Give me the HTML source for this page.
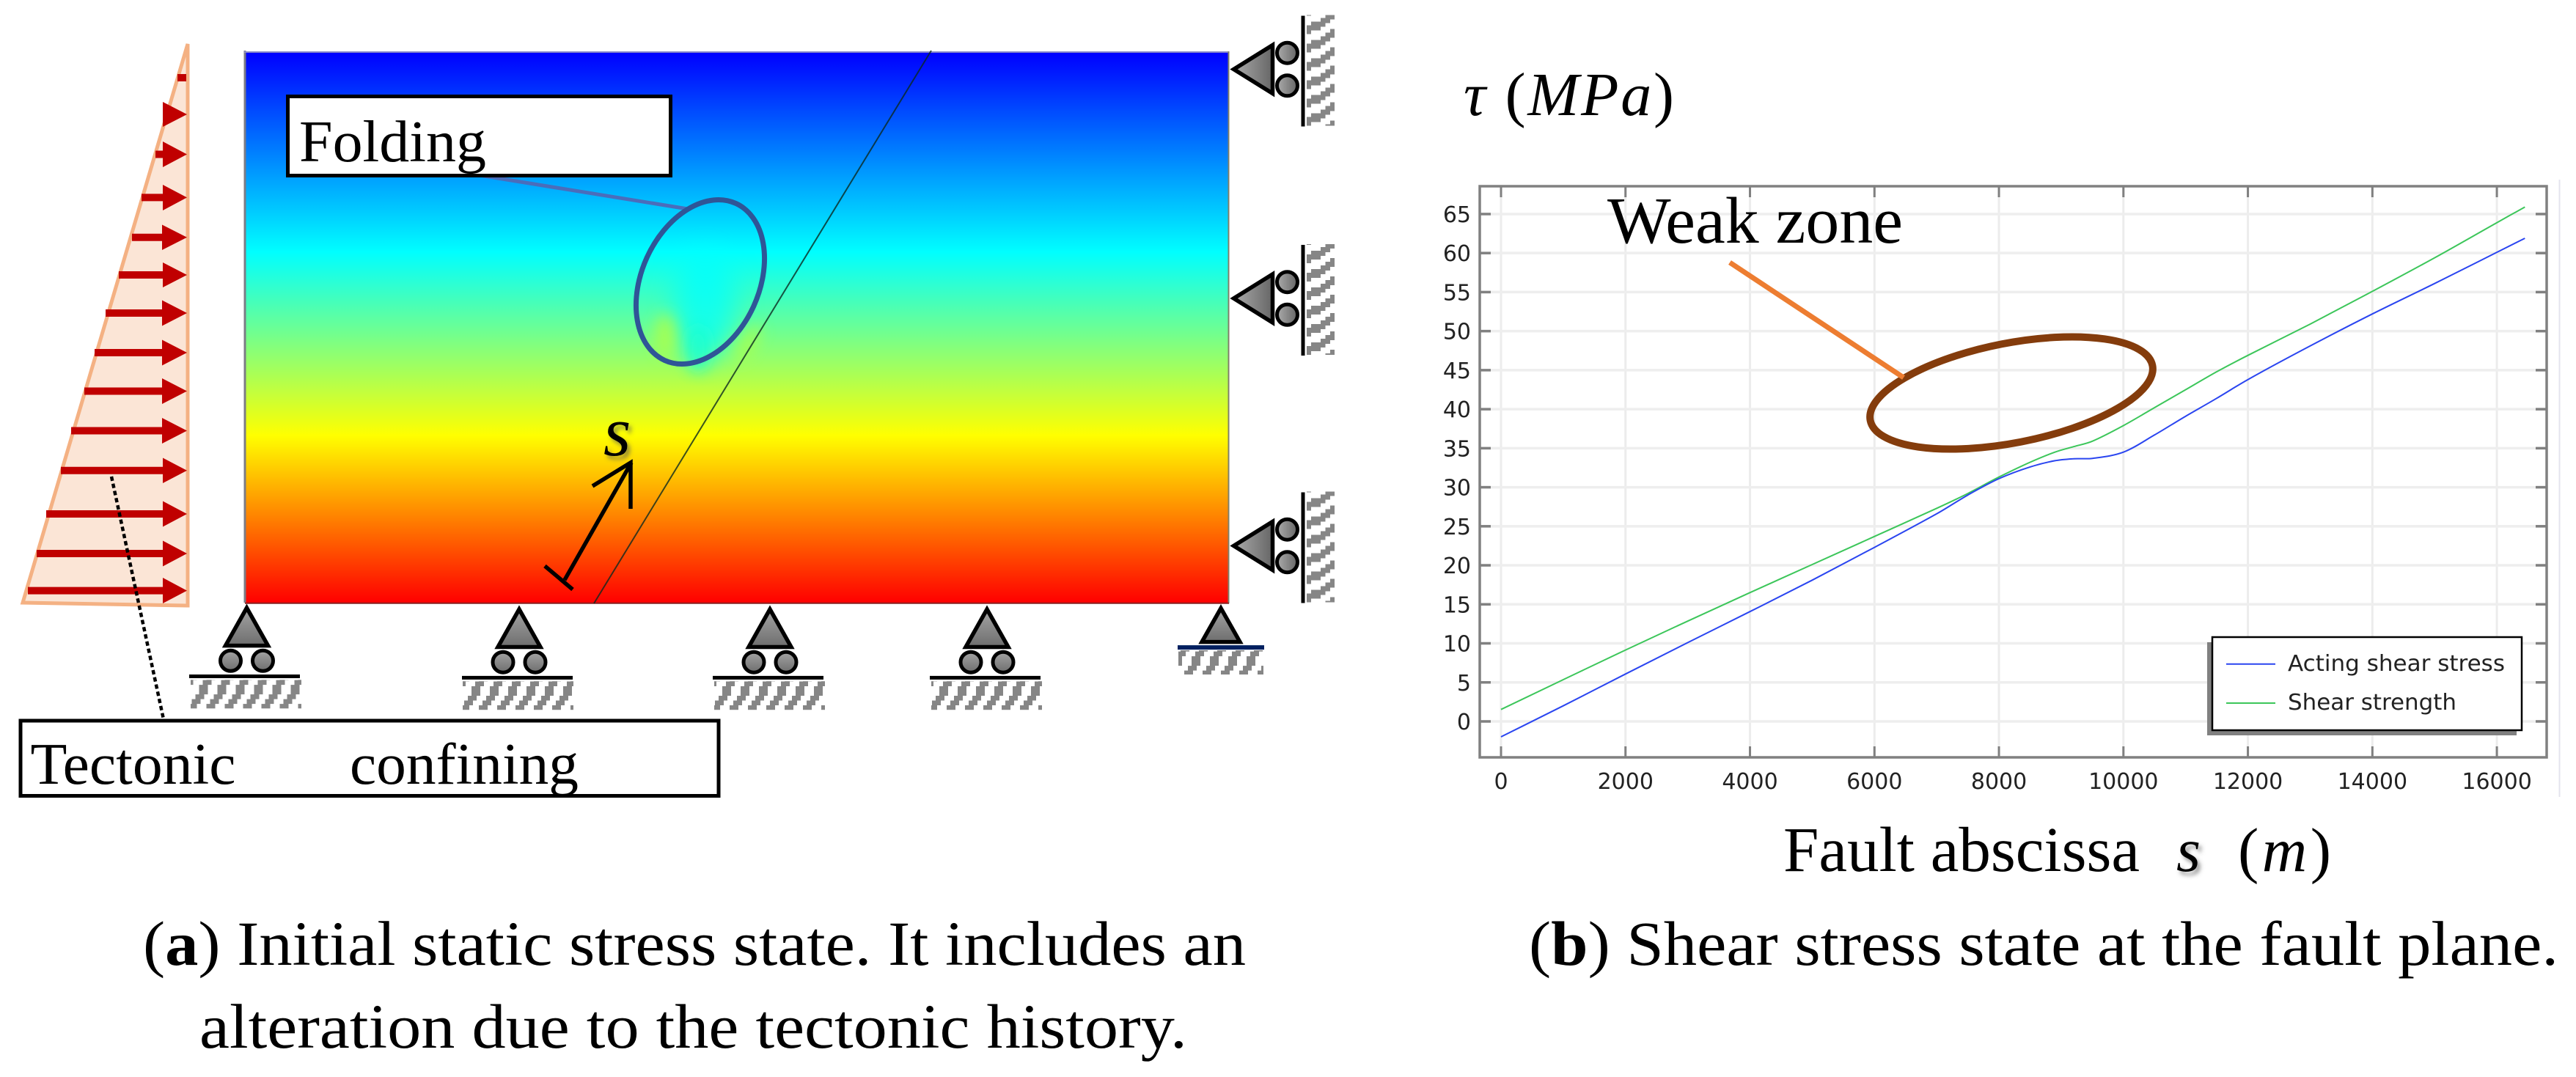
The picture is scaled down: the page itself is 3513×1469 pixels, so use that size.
<!DOCTYPE html>
<html lang="en">
<head>
<meta charset="utf-8">
<title>Initial static stress state and fault plane shear stress</title>
<style>
  html, body { margin: 0; padding: 0; background: #ffffff; }
  svg { display: block; }
  .serif { font-family: "Liberation Serif", serif; fill: #000; }
  .tick-label { font-family: "DejaVu Sans", sans-serif; font-size: 30px; fill: #222; }
  .legend-text { font-family: "DejaVu Sans", sans-serif; font-size: 30px; fill: #222; }
</style>
</head>
<body>
<svg id="figure" xmlns="http://www.w3.org/2000/svg" width="3513" height="1469" viewBox="0 0 3513 1469">
  <defs>
    <linearGradient id="stress-gradient" gradientUnits="userSpaceOnUse" x1="0" y1="72" x2="0" y2="822">
      <stop offset="0" stop-color="rgb(0,0,255)"/>
      <stop offset="0.3627" stop-color="rgb(0,255,255)"/>
      <stop offset="0.5293" stop-color="rgb(128,255,128)"/>
      <stop offset="0.696" stop-color="rgb(255,255,0)"/>
      <stop offset="1" stop-color="rgb(255,0,0)"/>
    </linearGradient>
    <linearGradient id="grey-v" x1="0" y1="0" x2="0" y2="1">
      <stop offset="0" stop-color="#a4a4a4"/>
      <stop offset="1" stop-color="#6e6e6e"/>
    </linearGradient>
    <linearGradient id="grey-h" x1="0" y1="0" x2="1" y2="0">
      <stop offset="0" stop-color="#ababab"/>
      <stop offset="1" stop-color="#666666"/>
    </linearGradient>
    <pattern id="hatch" patternUnits="userSpaceOnUse" width="25" height="39">
      <rect x="10" y="0" width="12" height="6.5" fill="#868686"/>
      <rect x="5" y="6.5" width="12" height="6.5" fill="#868686"/>
      <rect x="0" y="13" width="12" height="6.5" fill="#868686"/>
      <rect x="20" y="19.5" width="5" height="6.5" fill="#868686"/>
      <rect x="0" y="19.5" width="7" height="6.5" fill="#868686"/>
      <rect x="15" y="26" width="10" height="6.5" fill="#868686"/>
      <rect x="0" y="26" width="2" height="6.5" fill="#868686"/>
      <rect x="10" y="32.5" width="12" height="6.5" fill="#868686"/>
    </pattern>
    <pattern id="hatch-v" patternUnits="userSpaceOnUse" width="25" height="39" patternTransform="matrix(0,1,1,0,0,0)">
      <rect x="10" y="0" width="12" height="6.5" fill="#868686"/>
      <rect x="5" y="6.5" width="12" height="6.5" fill="#868686"/>
      <rect x="0" y="13" width="12" height="6.5" fill="#868686"/>
      <rect x="20" y="19.5" width="5" height="6.5" fill="#868686"/>
      <rect x="0" y="19.5" width="7" height="6.5" fill="#868686"/>
      <rect x="15" y="26" width="10" height="6.5" fill="#868686"/>
      <rect x="0" y="26" width="2" height="6.5" fill="#868686"/>
      <rect x="10" y="32.5" width="12" height="6.5" fill="#868686"/>
    </pattern>
    <filter id="blur-big" x="-80%" y="-80%" width="260%" height="260%"><feGaussianBlur stdDeviation="18"/></filter>
    <filter id="blur-small" x="-80%" y="-80%" width="260%" height="260%"><feGaussianBlur stdDeviation="10"/></filter>
    <filter id="soft-shadow" x="-60%" y="-60%" width="220%" height="220%"><feDropShadow dx="4" dy="5" stdDeviation="3" flood-color="#555" flood-opacity="0.6"/></filter>
    <clipPath id="plate-clip"><rect x="335" y="72" width="1340" height="750"/></clipPath>
    <g id="roller-support-shape">
      <polygon points="0,5.5 -29,57 29,57" fill="url(#grey-v)" stroke="#000" stroke-width="5.5"/>
      <circle cx="-22" cy="77.7" r="14" fill="url(#grey-v)" stroke="#000" stroke-width="5"/>
      <circle cx="22" cy="77.7" r="14" fill="url(#grey-v)" stroke="#000" stroke-width="5"/>
    </g>
    <g id="wall-roller-shape">
      <polygon points="5,0 58,-33 58,33" fill="url(#grey-h)" stroke="#000" stroke-width="5.5"/>
      <circle cx="78" cy="-22.3" r="14" fill="url(#grey-h)" stroke="#000" stroke-width="5"/>
      <circle cx="78" cy="22.3" r="14" fill="url(#grey-h)" stroke="#000" stroke-width="5"/>
      <rect x="97" y="-73" width="5" height="151" fill="#000"/>
      <rect x="104.5" y="-74" width="38" height="151" fill="url(#hatch-v)"/>
    </g>
  </defs>

  <g id="panel-a">
    <polygon points="256,60 256,826 31,822" fill="#fbe5d6" stroke="#f4b183" stroke-width="5"/>

    <g fill="#c00000">
      <rect x="242" y="101" width="12" height="10"/>
      <polygon points="222,139 255,156 222,173"/>
      <path d="M212,205.5H222V193L255,210.5L222,228V215.5H212Z"/>
      <path d="M193,264.4H222V252L255,269.4L222,287V274.4H193Z"/>
      <path d="M180,318.8H221V306.5L255,323.8L221,341V328.8H180Z"/>
      <path d="M162,370H222V358L255,375L222,392V380H162Z"/>
      <path d="M144,422H221V409.5L255,427L221,444.5V432H144Z"/>
      <path d="M129,476H221V463.5L255,481L221,498.5V486H129Z"/>
      <path d="M115,528.5H221V516L255,533.5L221,551V538.5H115Z"/>
      <path d="M97,582.5H221V570L255,587.5L221,605V592.5H97Z"/>
      <path d="M83,636.8H222V624.5L255,641.8L222,659V646.8H83Z"/>
      <path d="M63,696H222V683.5L255,701L222,718.5V706H63Z"/>
      <path d="M50,750H222V737.5L255,755L222,772.5V760H50Z"/>
      <path d="M38,800.6H222V788L255,805.6L222,823V810.6H38Z"/>
    </g>

    <rect x="335" y="72" width="1340" height="750" fill="url(#stress-gradient)"/>
    <g clip-path="url(#plate-clip)">
      <ellipse cx="962" cy="415" rx="42" ry="75" fill="rgb(0,255,255)" opacity="0.75" filter="url(#blur-big)"/>
      <ellipse cx="952" cy="475" rx="16" ry="32" fill="rgb(20,255,210)" opacity="0.8" filter="url(#blur-small)"/>
      <ellipse cx="907" cy="458" rx="14" ry="30" fill="rgb(175,255,70)" opacity="0.85" filter="url(#blur-small)"/>
      <ellipse cx="1020" cy="468" rx="12" ry="28" fill="rgb(175,255,70)" opacity="0.7" filter="url(#blur-small)" transform="rotate(30 1020 468)"/>
    </g>
    <line x1="334" y1="69" x2="334" y2="822" stroke="#7c7c86" stroke-width="3"/>
    <line x1="333" y1="71" x2="1676" y2="71" stroke="#8a8ac8" stroke-width="2"/>
    <line x1="1675.5" y1="70" x2="1675.5" y2="823" stroke="#80806a" stroke-width="2"/>
    <line x1="334" y1="822.8" x2="1676" y2="822.8" stroke="#8a2020" stroke-width="2"/>

    <line x1="1270" y1="69" x2="810" y2="823" stroke="#0c2a20" stroke-width="2" opacity="0.8"/>

    <g>
      <line x1="654" y1="239" x2="938" y2="285" stroke="#4a6dbb" stroke-width="5"/>
      <ellipse cx="955" cy="384.5" rx="80" ry="117.5" transform="rotate(24.4 955 384.5)" fill="none" stroke="#2f5597" stroke-width="7"/>
      <rect x="392.5" y="131.5" width="522" height="108" fill="#fff" stroke="#000" stroke-width="5"/>
      <text class="serif" x="408" y="220" font-size="80" textLength="255" lengthAdjust="spacingAndGlyphs">Folding</text>
    </g>

    <g>
      <text class="serif" x="823" y="621" font-size="96" font-style="italic" filter="url(#soft-shadow)">s</text>
      <line x1="770" y1="791" x2="861" y2="631" stroke="#000" stroke-width="5.5"/>
      <polyline points="808,663 860,631 860,694" fill="none" stroke="#000" stroke-width="5.5"/>
      <line x1="743" y1="772" x2="781" y2="804" stroke="#000" stroke-width="5.5"/>
    </g>

    <g transform="translate(336.5,823.6)">
      <use href="#roller-support-shape"/>
      <rect x="-78.5" y="96.4" width="151" height="5" fill="#000"/>
      <rect x="-76.5" y="103.7" width="151" height="39" fill="url(#hatch)"/>
    </g>
    <g transform="translate(708,825.5)">
      <use href="#roller-support-shape"/>
      <rect x="-78" y="96.4" width="151" height="5" fill="#000"/>
      <rect x="-77" y="103.7" width="151" height="39" fill="url(#hatch)"/>
    </g>
    <g transform="translate(1050,825.5)">
      <use href="#roller-support-shape"/>
      <rect x="-78" y="96.4" width="151" height="5" fill="#000"/>
      <rect x="-76" y="103.7" width="151" height="39" fill="url(#hatch)"/>
    </g>
    <g transform="translate(1346,825.5)">
      <use href="#roller-support-shape"/>
      <rect x="-78" y="96.4" width="151" height="5" fill="#000"/>
      <rect x="-76" y="103.7" width="151" height="39" fill="url(#hatch)"/>
    </g>
    <g transform="translate(1665,823.6)">
      <polygon points="0,6 -26,52 26,52" fill="url(#grey-v)" stroke="#000" stroke-width="5.5"/>
      <rect x="-59" y="56.5" width="118" height="6" fill="#002060"/>
      <rect x="-58" y="63.4" width="116" height="33" fill="url(#hatch)"/>
    </g>

    <g transform="translate(1677.5,94.5)">
      <use href="#wall-roller-shape"/>
    </g>
    <g transform="translate(1677.5,407)">
      <use href="#wall-roller-shape"/>
    </g>
    <g transform="translate(1677.5,744.5)">
      <use href="#wall-roller-shape"/>
    </g>

    <g>
      <line x1="152" y1="650" x2="223" y2="981" stroke="#000" stroke-width="4.5" stroke-dasharray="6 4"/>
      <rect x="28" y="983" width="952" height="102.5" fill="#fff" stroke="#000" stroke-width="5"/>
      <text class="serif" x="41.5" y="1069" font-size="80" textLength="280" lengthAdjust="spacingAndGlyphs">Tectonic</text>
      <text class="serif" x="477" y="1069" font-size="80" textLength="312" lengthAdjust="spacingAndGlyphs">confining</text>
    </g>

    <text class="serif" x="195" y="1316" font-size="86" textLength="1504" lengthAdjust="spacingAndGlyphs">(<tspan font-weight="bold">a</tspan>) Initial static stress state. It includes an</text>
    <text class="serif" x="272" y="1429" font-size="86" textLength="1347" lengthAdjust="spacingAndGlyphs">alteration due to the tectonic history.</text>
  </g>

  <g id="panel-b">
    <text class="serif" x="1996" y="157" font-size="84" textLength="287" lengthAdjust="spacing"><tspan font-style="italic">τ</tspan> (<tspan font-style="italic">MPa</tspan>)</text>
    <line x1="3490.5" y1="245" x2="3490.5" y2="1087" stroke="#e4e4ee" stroke-width="2"/>
    <g id="grid-layer"></g>
    <g id="tick-layer"></g>
    <rect x="2018" y="254" width="1455" height="779" fill="none" stroke="#808080" stroke-width="3.5"/>
    <g id="series-layer"></g>

    <g>
      <rect x="3010" y="876" width="422" height="127" fill="#808080"/>
      <rect x="3017" y="869" width="422" height="127" fill="#fff" stroke="#000" stroke-width="2.5"/>
      <line x1="3036" y1="905.7" x2="3103" y2="905.7" stroke="#2a45f0" stroke-width="2"/>
      <text class="legend-text" x="3120" y="915" textLength="296" lengthAdjust="spacingAndGlyphs">Acting shear stress</text>
      <line x1="3036" y1="959" x2="3103" y2="959" stroke="#3cc65a" stroke-width="2"/>
      <text class="legend-text" x="3120" y="968" textLength="230" lengthAdjust="spacingAndGlyphs">Shear strength</text>
    </g>

    <g>
      <text class="serif" x="2192" y="331" font-size="90" textLength="403" lengthAdjust="spacingAndGlyphs">Weak zone</text>
      <ellipse cx="2743" cy="536" rx="196" ry="68" transform="rotate(-11 2743 536)" fill="none" stroke="#843c0c" stroke-width="10"/>
      <line x1="2359" y1="358" x2="2596" y2="515" stroke="#ed7d31" stroke-width="7"/>
    </g>

    <text class="serif" x="2432" y="1188" font-size="87" textLength="486" lengthAdjust="spacingAndGlyphs">Fault abscissa</text>
    <text class="serif" x="2968" y="1188" font-size="85" font-style="italic" filter="url(#soft-shadow)">s</text>
    <text class="serif" x="3052" y="1188" font-size="85" textLength="127" lengthAdjust="spacing">(<tspan font-style="italic">m</tspan>)</text>
    <text class="serif" x="2085" y="1316" font-size="86" textLength="1404" lengthAdjust="spacingAndGlyphs">(<tspan font-weight="bold">b</tspan>) Shear stress state at the fault plane.</text>
  </g>
</svg>

<script>
const xTickValues = [0, 2000, 4000, 6000, 8000, 10000, 12000, 14000, 16000];
const yTickValues = [0, 5, 10, 15, 20, 25, 30, 35, 40, 45, 50, 55, 60, 65];
const faultAbscissa = [0, 1000, 2000, 3000, 4000, 5000, 6000, 7000, 7500, 8000, 8500, 8900, 9200, 9500, 10000, 10500, 11000, 11500, 12000, 13000, 14000, 15000, 16000, 16450];
const actingShearStress = [-1.97, 2.0, 6.08, 10.1, 14.07, 18.1, 22.3, 26.6, 29.0, 31.1, 32.6, 33.4, 33.65, 33.7, 34.5, 36.7, 39.1, 41.4, 43.8, 48.1, 52.2, 56.1, 60.1, 61.9];
const shearStrength = [1.53, 5.35, 9.15, 12.85, 16.5, 20.1, 23.7, 27.3, 29.2, 31.3, 33.2, 34.5, 35.2, 35.9, 37.9, 40.2, 42.5, 44.8, 46.9, 50.9, 55.1, 59.4, 63.9, 65.9];

const SVG_NS = 'http://www.w3.org/2000/svg';
const xScale = function (v) { return 2047 + v * 0.08488; };
const yScale = function (v) { return 984 - v * 10.647; };
const PLOT = { left: 2018, right: 3473, top: 254, bottom: 1033 };

function makeLine(x1, y1, x2, y2, color, width) {
  const el = document.createElementNS(SVG_NS, 'line');
  el.setAttribute('x1', x1);
  el.setAttribute('y1', y1);
  el.setAttribute('x2', x2);
  el.setAttribute('y2', y2);
  el.setAttribute('stroke', color);
  el.setAttribute('stroke-width', width);
  return el;
}

const gridLayer = document.getElementById('grid-layer');
const tickLayer = document.getElementById('tick-layer');
const seriesLayer = document.getElementById('series-layer');

xTickValues.forEach(function (v) {
  const px = xScale(v);
  const grid = makeLine(px, PLOT.top, px, PLOT.bottom, '#ececec', 3);
  
  
  gridLayer.appendChild(grid);

  const bottomTick = makeLine(px, PLOT.bottom - 15, px, PLOT.bottom, '#808080', 3);
  
  
  tickLayer.appendChild(bottomTick);

  const topTick = makeLine(px, PLOT.top, px, PLOT.top + 15, '#808080', 3);
  
  
  tickLayer.appendChild(topTick);

  const label = document.createElementNS(SVG_NS, 'text');
  label.setAttribute('x', px);
  label.setAttribute('y', 1076);
  label.setAttribute('text-anchor', 'middle');
  label.setAttribute('class', 'tick-label');
  
  
  label.textContent = String(v);
  tickLayer.appendChild(label);
});

yTickValues.forEach(function (v) {
  const py = yScale(v);
  const grid = makeLine(PLOT.left, py, PLOT.right, py, '#eeeeee', 3.5);
  
  
  gridLayer.appendChild(grid);

  const leftTick = makeLine(PLOT.left, py, PLOT.left + 15, py, '#808080', 3.5);
  
  
  tickLayer.appendChild(leftTick);

  const rightTick = makeLine(PLOT.right - 15, py, PLOT.right, py, '#808080', 3.5);
  
  
  tickLayer.appendChild(rightTick);

  const label = document.createElementNS(SVG_NS, 'text');
  label.setAttribute('x', 2006);
  label.setAttribute('y', py + 11);
  label.setAttribute('text-anchor', 'end');
  label.setAttribute('class', 'tick-label');
  
  
  label.textContent = String(v);
  tickLayer.appendChild(label);
});

// Smooth Hermite path through the sampled curve values.
function seriesPath(values) {
  const xs = faultAbscissa.map(xScale);
  const ys = values.map(yScale);
  const last = xs.length - 1;
  const slope = function (i) {
    const a = Math.max(i - 1, 0);
    const b = Math.min(i + 1, last);
    return (ys[b] - ys[a]) / (xs[b] - xs[a]);
  };
  let d = 'M' + xs[0].toFixed(1) + ',' + ys[0].toFixed(1);
  for (let i = 0; i < last; i++) {
    const dx = (xs[i + 1] - xs[i]) / 3;
    d += 'C' + (xs[i] + dx).toFixed(1) + ',' + (ys[i] + slope(i) * dx).toFixed(1) +
         ' ' + (xs[i + 1] - dx).toFixed(1) + ',' + (ys[i + 1] - slope(i + 1) * dx).toFixed(1) +
         ' ' + xs[i + 1].toFixed(1) + ',' + ys[i + 1].toFixed(1);
  }
  return d;
}

const strengthLine = document.createElementNS(SVG_NS, 'path');
strengthLine.setAttribute('d', seriesPath(shearStrength));
strengthLine.setAttribute('fill', 'none');
strengthLine.setAttribute('stroke', '#3cc65a');
strengthLine.setAttribute('stroke-width', '2');


seriesLayer.appendChild(strengthLine);

const stressLine = document.createElementNS(SVG_NS, 'path');
stressLine.setAttribute('d', seriesPath(actingShearStress));
stressLine.setAttribute('fill', 'none');
stressLine.setAttribute('stroke', '#2a45f0');
stressLine.setAttribute('stroke-width', '2');


seriesLayer.appendChild(stressLine);
</script>
</body>
</html>
